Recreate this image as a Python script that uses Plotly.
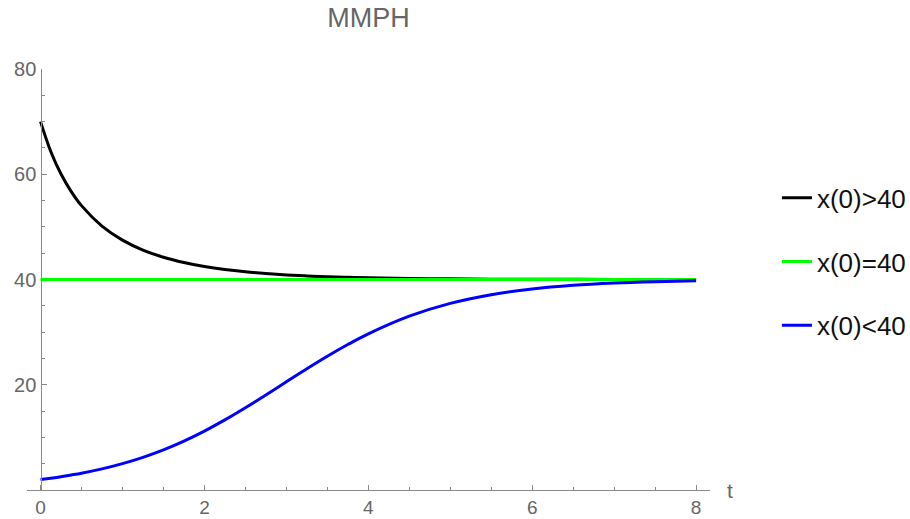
import plotly.graph_objects as go

# ---- data ----
t_vals = [0, 0.125, 0.25, 0.375, 0.5, 0.75, 1, 1.25, 1.5, 1.75, 2, 2.25, 2.5, 2.75,
          3, 3.25, 3.5, 3.75, 4, 4.5, 5, 5.5, 6, 6.5, 7, 7.5, 8]
x_above = [70, 64.33, 60.04, 56.71, 54.04, 50.16, 47.49, 45.60, 44.23, 43.22, 42.46,
           41.89, 41.46, 41.13, 40.87, 40.68, 40.52, 40.41, 40.32, 40.19, 40.12, 40.07,
           40.04, 40.03, 40.02, 40.01, 40.01]
t_equal = [0, 8]
x_equal = [40, 40]
x_below = [2.0, 2.25, 2.53, 2.85, 3.19, 4.01, 5.01, 6.21, 7.63, 9.30, 11.20, 13.32,
           15.63, 18.06, 20.55, 23.03, 25.41, 27.64, 29.67, 33.03, 35.46, 37.12, 38.20,
           38.89, 39.32, 39.58, 39.75]
series_names = ["x(0)>40", "x(0)=40", "x(0)<40"]
x_ticks = [0, 2, 4, 6, 8]
y_ticks = [20, 40, 60, 80]

X_MIN, X_MAX = -0.165, 8.17
Y_MIN, Y_MAX = 0, 80
FONT = "Liberation Sans, Arial, sans-serif"
TICK_COLOR = "#666666"
AXIS_COLOR = "#8a8a8a"

fig = go.Figure()
fig.add_trace(go.Scatter(x=t_vals, y=x_above, mode="lines", name=series_names[0],
                         line=dict(color="#000000", width=3, shape="spline"),
                         legendgroup="a"))
fig.add_trace(go.Scatter(x=t_equal, y=x_equal, mode="lines", name=series_names[1],
                         line=dict(color="#00ff00", width=3),
                         legendgroup="b"))
fig.add_trace(go.Scatter(x=t_vals, y=x_below, mode="lines", name=series_names[2],
                         line=dict(color="#0000ff", width=3, shape="spline"),
                         legendgroup="c"))

ypos = (0 - X_MIN) / (X_MAX - X_MIN)

fig.update_layout(
    width=910, height=519,
    margin=dict(l=27, r=200, t=69, b=29, autoexpand=False),
    paper_bgcolor="white", plot_bgcolor="white",
    font=dict(family=FONT),
    title=dict(text="MMPH", x=0.5, xref="paper", xanchor="center",
               y=1 - 18 / 519, yref="container", yanchor="middle",
               font=dict(size=27, color="#666666", family=FONT)),
    showlegend=True,
    legend=dict(x=1.098, xanchor="left", y=0.75, yanchor="top",
                font=dict(size=26, color="#111111", family=FONT),
                tracegroupgap=27, traceorder="grouped",
                bgcolor="rgba(0,0,0,0)"),
    xaxis=dict(range=[X_MIN, X_MAX], showgrid=False, zeroline=False, automargin=False,
               showline=True, linecolor=AXIS_COLOR, linewidth=1.3,
               tickvals=x_ticks, ticks="inside", ticklen=5, tickcolor=AXIS_COLOR,
               ticklabelstandoff=0,
               minor=dict(dtick=0.5, tick0=0, ticks="inside", ticklen=3,
                          tickcolor=AXIS_COLOR, showgrid=False),
               tickfont=dict(size=19, color=TICK_COLOR, family=FONT)),
    yaxis=dict(range=[Y_MIN, Y_MAX], showgrid=False, zeroline=False, automargin=False,
               anchor="free", position=ypos,
               showline=True, linecolor=AXIS_COLOR, linewidth=1.3,
               tickvals=y_ticks, ticks="inside", ticklen=5, tickcolor=AXIS_COLOR,
               minor=dict(dtick=5, tick0=0, ticks="inside", ticklen=3,
                          tickcolor=AXIS_COLOR, showgrid=False),
               tickfont=dict(size=20, color=TICK_COLOR, family=FONT)),
    annotations=[dict(text="t", xref="paper", yref="paper",
                      x=1 + (730 - 710) / 683, y=0.0, xanchor="center",
                      yanchor="middle", showarrow=False,
                      font=dict(size=21, color=TICK_COLOR, family=FONT))],
)

fig.write_html("out.html")
